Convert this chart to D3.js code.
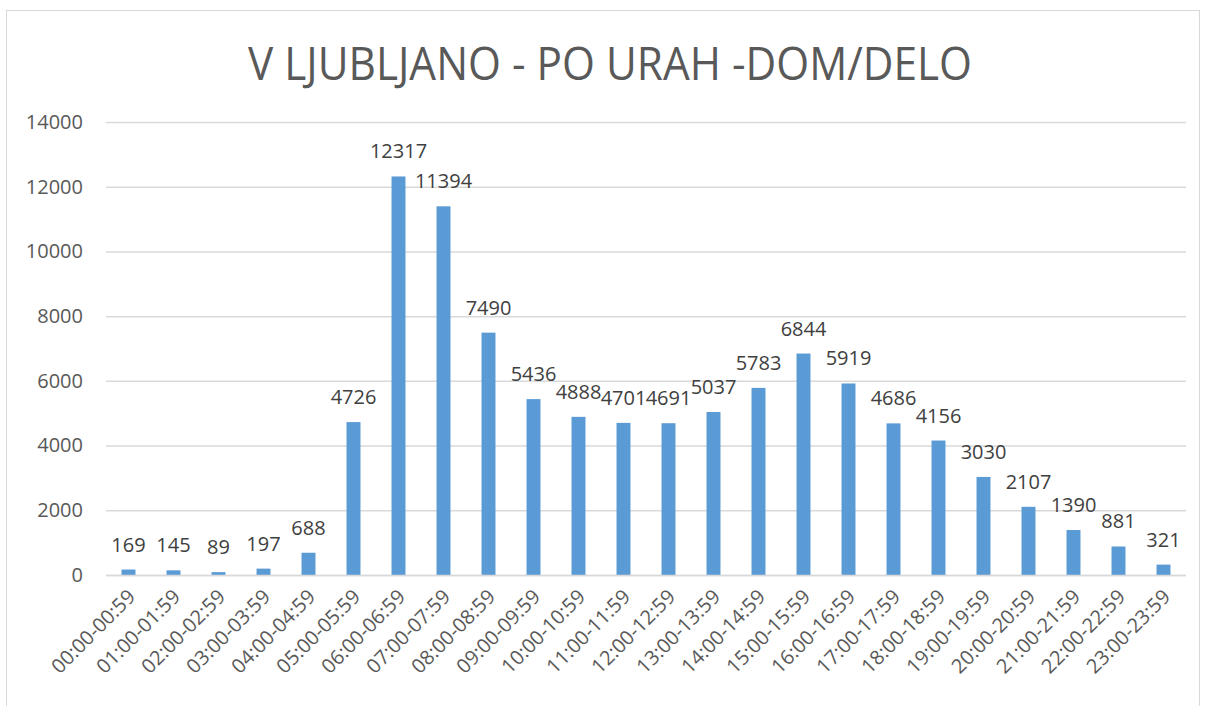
<!DOCTYPE html>
<html lang="sl">
<head>
    <meta charset="UTF-8">
    <title>V Ljubljano - po urah</title>
    <script src="https://d3js.org/d3.v7.min.js"></script>
    <style>
        body { margin: 0; background: #fff; }
        svg text { font-family: "Open Sans", "Noto Sans", sans-serif; }
    </style>
</head>
<body>
    <svg id="chart" width="1206" height="706"></svg>

    <script>
        // hourly intervals and counts
        const hours = ["00:00-00:59", "01:00-01:59", "02:00-02:59", "03:00-03:59", "04:00-04:59",
            "05:00-05:59", "06:00-06:59", "07:00-07:59", "08:00-08:59", "09:00-09:59",
            "10:00-10:59", "11:00-11:59", "12:00-12:59", "13:00-13:59", "14:00-14:59",
            "15:00-15:59", "16:00-16:59", "17:00-17:59", "18:00-18:59", "19:00-19:59",
            "20:00-20:59", "21:00-21:59", "22:00-22:59", "23:00-23:59"];
        const counts = [169, 145, 89, 197, 688, 4726, 12317, 11394, 7490, 5436, 4888, 4701,
            4691, 5037, 5783, 6844, 5919, 4686, 4156, 3030, 2107, 1390, 881, 321];
        const yTicks = [0, 2000, 4000, 6000, 8000, 10000, 12000, 14000];
        const title = "V LJUBLJANO - PO URAH -DOM/DELO";

        const svg = d3.select("#chart");
        const plot = { left: 106, right: 1186, top: 122, bottom: 575 };

        // chart frame
        svg.append("rect")
            .attr("x", 6.5).attr("y", 10.5)
            .attr("width", 1193).attr("height", 720)
            .attr("fill", "#fff")
            .attr("stroke", "#d9d9d9");

        svg.append("text")
            .attr("x", 610).attr("y", 80)
            .attr("text-anchor", "middle")
            .attr("font-size", 46)
            .attr("fill", "#595959")
            .attr("textLength", 724)
            .attr("lengthAdjust", "spacingAndGlyphs")
            .text(title);

        const x = d3.scaleBand()
            .domain(hours)
            .range([plot.left, plot.right])
            .paddingInner(0.69)
            .paddingOuter(0.345);

        const y = d3.scaleLinear()
            .domain([0, 14000])
            .range([plot.bottom, plot.top]);

        // gridlines + y labels
        const yAxis = svg.append("g")
            .attr("transform", `translate(${plot.left},0)`)
            .call(d3.axisLeft(y).tickValues(yTicks).tickFormat(d3.format("d"))
                .tickSize(-(plot.right - plot.left)).tickPadding(23));
        yAxis.select(".domain").remove();
        yAxis.selectAll(".tick line").attr("stroke", "#d9d9d9").attr("stroke-width", 1.5);
        yAxis.selectAll(".tick text")
            .attr("font-size", 20)
            .attr("fill", "#595959")
            .attr("font-family", "Open Sans, sans-serif");

        // bars
        svg.append("g").selectAll("rect")
            .data(counts)
            .join("rect")
            .attr("x", (d, i) => x(hours[i]))
            .attr("y", d => y(d))
            .attr("width", x.bandwidth())
            .attr("height", d => y(0) - y(d))
            .attr("fill", "#5b9bd5");

        // x axis line
        svg.append("line")
            .attr("x1", plot.left).attr("x2", plot.right)
            .attr("y1", y(0) + 0.5).attr("y2", y(0) + 0.5)
            .attr("stroke", "#d9d9d9").attr("stroke-width", 1.5);

        // data labels
        svg.append("g").selectAll("text")
            .data(counts)
            .join("text")
            .attr("x", (d, i) => x(hours[i]) + x.bandwidth() / 2)
            .attr("y", d => y(d) - 18)
            .attr("text-anchor", "middle")
            .attr("font-size", 20)
            .attr("fill", "#404040")
            .text(d => d);

        // rotated category labels
        svg.append("g").selectAll("text")
            .data(hours)
            .join("text")
            .attr("transform", d => `translate(${x(d) + x.bandwidth() / 2 + 8},598) rotate(-45)`)
            .attr("text-anchor", "end")
            .attr("font-size", 20)
            .attr("fill", "#595959")
            .text(d => d);
    </script>
</body>
</html>
